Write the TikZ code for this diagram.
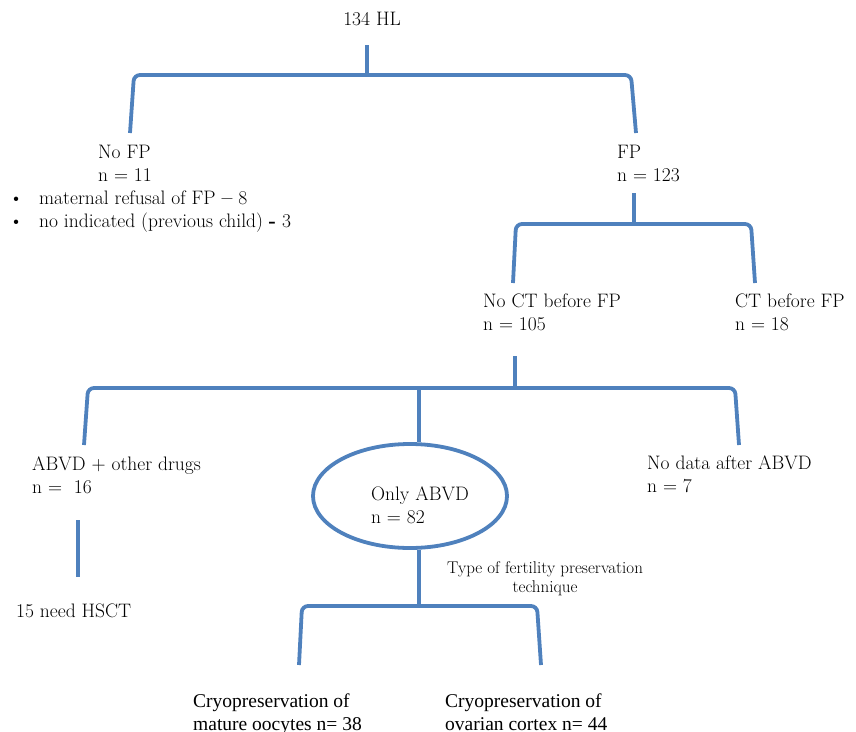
\documentclass[tikz,border=0pt]{standalone}
\usepackage{fontspec}
\usetikzlibrary{shapes.geometric}
\newfontfamily\timesfont{Liberation Serif}
\definecolor{hlblue}{RGB}{79,129,189}

\begin{document}
\begin{tikzpicture}[x=1pt,y=-1pt,
  branch/.style={draw=hlblue,line width=3.8pt,rounded corners=6pt},
  txt/.style={anchor=north west,inner sep=0pt,align=left,font=\fontsize{19.5}{23}\selectfont},
  cryo/.style={anchor=north west,inner sep=0pt,align=left,font=\timesfont\fontsize{19.5}{23}\selectfont}]

\useasboundingbox (0,0) rectangle (856,731);

% texts
\node (hl) at (372,25) [anchor=base,inner sep=0pt,font=\fontsize{19.5}{23}\selectfont] {134 HL};
\node (nofp) at (98,145) [txt] {No FP\\n = 11};
\node (refusal) at (9,191) [txt] {\makebox[30pt][l]{\textbullet}maternal refusal of FP \textbf{--} 8\\
  \makebox[30pt][l]{\textbullet}no indicated (previous child) \textbf{-} 3};
\node (fp) at (617,145) [txt] {FP\\n = 123};
\node (noct) at (483,294) [txt] {No CT before FP\\n = 105};
\node (ct) at (735,294) [txt] {CT before FP\\n = 18};
\node (abvd) at (32,457) [txt] {ABVD + other drugs\\n = \ 16};
\node (only) at (410,496) [ellipse,draw=hlblue,line width=3.8pt,minimum width=194pt,minimum height=104pt] {};
\node (onlytxt) at (only) [txt,anchor=center,xshift=10pt,yshift=-9pt] {Only ABVD\\n = 82};
\node (nodata) at (647,456) [txt] {No data after ABVD\\n = 7};
\node (hsct) at (16,617) [anchor=base west,inner sep=0pt,font=\fontsize{19.5}{23}\selectfont] {15 need HSCT};
\node (tech) at (545,561) [anchor=north,inner sep=0pt,align=center,font=\fontsize{17}{19}\selectfont] {Type of fertility preservation\\technique};
\node (oocytes) at (193,694) [cryo] {Cryopreservation of\\mature oocytes n= 38};
\node (cortex) at (445,694) [cryo] {Cryopreservation of\\ovarian cortex n= 44};

% stems and junctions
\node (t1) [coordinate] at (367,45) {};
\node (j1) [coordinate] at (367,75) {};
\node (t2) [coordinate] at (634,193) {};
\node (j2) [coordinate] at (634,224) {};
\node (t3) [coordinate] at (515,356) {};
\node (j3) [coordinate] at (515,388) {};
\node (j4) [coordinate] at (419,388) {};
\node (j5) [coordinate] at (419,606) {};
\node (h1) [coordinate] at (78,520) {};
\node (h2) [coordinate] at (78,577) {};

\draw [branch] (t1) -- (j1);
\draw [branch] (t2) -- (j2);
\draw [branch] (t3) -- (j3);
\draw [branch] (j4) -- (only.north -| j4);
\draw [branch] (only.south -| j5) -- (j5);
\draw [branch] (h1) -- (h2);

% brackets
\draw [branch] (130,133) -- (134,75) -- (631,75) -- (636,133);
\draw [branch] (513,283) -- (516,224) -- (751,224) -- (755,283);
\draw [branch] (84,445) -- (88,388) -- (735,388) -- (739,445);
\draw [branch] (299,665) -- (302,606) -- (537,606) -- (541,665);

\end{tikzpicture}
\end{document}
